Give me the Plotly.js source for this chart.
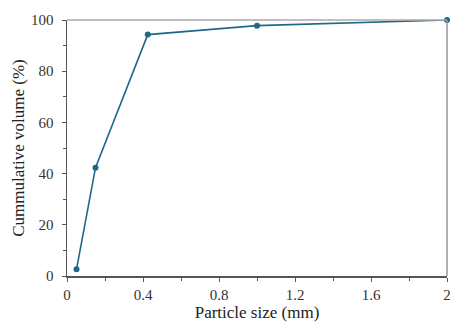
<!DOCTYPE html>
<html>
<head>
<meta charset="utf-8">
<script src="https://cdn.plot.ly/plotly-3.0.1.min.js"></script>
<style>html,body{margin:0;padding:0;background:#fff}#chart{width:450px;height:322px}</style>
</head>
<body>
<div id="chart"></div>
<script>
var particleSize = [0.05, 0.15, 0.425, 1.0, 2.0];
var cumulativeVolume = [2.6, 42.3, 94.3, 97.8, 100];
var xTicks = [0, 0.4, 0.8, 1.2, 1.6, 2];
var xTickLabels = ['0', '0.4', '0.8', '1.2', '1.6', '2'];
var yTicks = [0, 20, 40, 60, 80, 100];

var trace = {
  x: particleSize,
  y: cumulativeVolume,
  mode: 'lines+markers',
  type: 'scatter',
  line: {color: '#1f6889', width: 1.6},
  marker: {color: '#1f6889', size: 6},
  cliponaxis: false,
  hoverinfo: 'skip'
};

var fam = 'Liberation Serif, Times New Roman, serif';
var tickFont = {family: fam, size: 15, color: '#333'};
var titleFont = {family: fam, size: 17, color: '#222'};
var layout = {
  width: 450, height: 322,
  margin: {l: 67, r: 3, t: 20, b: 46},
  paper_bgcolor: '#fff', plot_bgcolor: '#fff',
  showlegend: false,
  font: tickFont,
  xaxis: {
    range: [0, 2],
    tickvals: xTicks, ticktext: xTickLabels,
    ticklabeloverflow: 'allow',
    ticks: 'outside', ticklen: 4, tickcolor: '#555', tickwidth: 1,
    minor: {dtick: 0.2, ticks: 'outside', ticklen: 3, tickcolor: '#555', showgrid: false},
    showline: true, linecolor: '#555', linewidth: 1.5,
    mirror: false, showgrid: false, zeroline: false,
    tickfont: tickFont,
    title: {text: 'Particle size (mm)', font: titleFont, standoff: 7}
  },
  yaxis: {
    range: [0, 100],
    tickvals: yTicks,
    ticklabeloverflow: 'allow',
    ticklabelstandoff: 5,
    ticks: 'outside', ticklen: 4, tickcolor: '#555', tickwidth: 1,
    minor: {dtick: 10, ticks: 'outside', ticklen: 3, tickcolor: '#555', showgrid: false},
    showline: true, linecolor: '#555', linewidth: 1.5,
    showgrid: false, zeroline: false,
    tickfont: tickFont,
    title: {text: 'Cummulative volume (%)', font: titleFont, standoff: 2}
  },
  shapes: [
    {type: 'line', xref: 'paper', yref: 'paper', x0: 0, x1: 1, y0: 1, y1: 1, line: {color: '#aaa', width: 1.5}},
    {type: 'line', xref: 'paper', yref: 'paper', x0: 1, x1: 1, y0: 0, y1: 1, line: {color: '#999', width: 1.5}}
  ]
};

Plotly.newPlot('chart', [trace], layout, {staticPlot: true, displayModeBar: false});
</script>
</body>
</html>
